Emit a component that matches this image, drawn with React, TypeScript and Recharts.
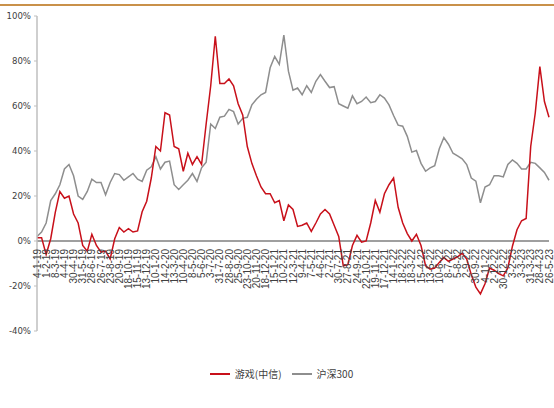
import React from 'react';
import { LineChart, Line, XAxis, YAxis, ReferenceLine, Legend } from 'recharts';

// weekly dates, sampled every 2 weeks; every other one is printed on the axis
const categories = [
  '4-1-19', '18-1-19', '1-2-19', '22-2-19', '8-3-19', '22-3-19', '4-4-19', '19-4-19',
  '30-4-19', '17-5-19', '31-5-19', '14-6-19', '28-6-19', '12-7-19', '26-7-19', '9-8-19',
  '23-8-19', '6-9-19', '20-9-19', '11-10-19', '18-10-19', '1-11-19', '15-11-19', '29-11-19',
  '13-12-19', '27-12-19', '10-1-20', '23-1-20', '14-2-20', '28-2-20', '13-3-20', '27-3-20',
  '10-4-20', '24-4-20', '8-5-20', '22-5-20', '5-6-20', '19-6-20', '3-7-20', '17-7-20',
  '31-7-20', '14-8-20', '28-8-20', '11-9-20', '25-9-20', '9-10-20', '23-10-20', '6-11-20',
  '20-11-20', '4-12-20', '18-12-20', '31-12-20', '15-1-21', '29-1-21', '10-2-21', '26-2-21',
  '12-3-21', '26-3-21', '9-4-21', '23-4-21', '7-5-21', '21-5-21', '4-6-21', '18-6-21',
  '2-7-21', '16-7-21', '30-7-21', '13-8-21', '27-8-21', '10-9-21', '24-9-21', '8-10-21',
  '22-10-21', '5-11-21', '19-11-21', '3-12-21', '17-12-21', '31-12-21', '14-1-22', '28-1-22',
  '18-2-22', '4-3-22', '18-3-22', '1-4-22', '15-4-22', '29-4-22', '13-5-22', '27-5-22',
  '10-6-22', '24-6-22', '8-7-22', '22-7-22', '5-8-22', '19-8-22', '2-9-22', '16-9-22',
  '30-9-22', '21-10-22', '4-11-22', '18-11-22', '2-12-22', '16-12-22', '30-12-22', '13-1-23',
  '3-2-23', '17-2-23', '3-3-23', '17-3-23', '31-3-23', '14-4-23', '28-4-23', '12-5-23',
  '26-5-23',
];

// 游戏(中信), cumulative %
const gameIndex = [
  1.5, 1.5, -6, 1, 12.7, 22, 19, 20, 12, 8,
  -2, -4.5, 3, -2, -5, -4.5, -8, 1, 6, 4,
  5.5, 4, 4.5, 13, 17.7, 28, 42, 40, 57, 56,
  42, 41, 31, 39, 34, 37.5, 34, 52, 69, 91,
  70, 70, 72, 69, 61, 56, 42, 34.5, 29, 24,
  21, 21, 17, 18, 9, 16, 14, 6.5, 7, 8,
  4.3, 8, 12, 14, 12, 7, 2, -11, -10.5, -2,
  2.5, -0.5, 0, 8, 18, 12.8, 21, 25, 28, 15,
  8, 3.3, 0, 3, -2, -11, -12.5, -12, -9.5, -7.3,
  -9, -8, -7, -5.5, -8, -15, -20.5, -23.5, -19, -12,
  -13, -14.5, -15.5, -12, -2.3, 5, 9, 10, 42, 57,
  77.5, 62, 55,
];

// 沪深300, cumulative %
const hs300 = [
  2, 4, 8, 18, 21, 25, 32, 34, 29, 20,
  18.5, 22, 27.5, 26, 26, 20.5, 26, 30, 29.5, 27,
  28.5, 30, 27.5, 26.5, 31.5, 33, 37.5, 32, 35, 35.5,
  25, 22.9, 25, 27, 30, 26.5, 32.5, 35, 52, 50,
  55, 55.5, 58.5, 57.5, 52, 54.5, 55, 60.5, 63, 65,
  66, 77, 82, 78.5, 91.5, 75.5, 67, 68, 65, 69,
  66, 71, 74, 71, 68.2, 68.6, 61, 60, 59, 64.5,
  61, 62, 64, 61.5, 62, 65, 63.5, 60.5, 55.8, 51.5,
  51, 46.5, 39.5, 40.2, 34.5, 31, 32.5, 33.5, 41, 46,
  43, 39, 37.8, 36.5, 34, 28, 26.6, 17, 24, 25,
  29, 29, 28.5, 34, 36, 34.5, 32, 32, 35, 34.5,
  32.5, 30.5, 27,
];

const yTicks = [-40, -20, 0, 20, 40, 60, 80, 100];

const data = categories.map((date, i) => ({ date, game: gameIndex[i], hs300: hs300[i] }));

const RED = '#C8101A';
const GREY = '#8E8E8E';

const PLOT_TOP = 16;
const PLOT_H = 315;
// the date labels hang from the 0% line, not from the bottom of the plot
const ZERO_Y = PLOT_TOP + PLOT_H * (100 / 140);

const DateTick = (props: any) => {
  const { x, payload } = props;
  const y = ZERO_Y + 8;
  return (
    <text
      x={x}
      y={y}
      transform={`rotate(-90 ${x} ${y})`}
      textAnchor="end"
      dominantBaseline="central"
      fontSize={10}
      fill="#404040"
      fontFamily='"Liberation Sans", Arial, sans-serif'
    >
      {payload.value}
    </text>
  );
};

const LegendBox = () => (
  <div style={{ height: 44, display: 'flex', justifyContent: 'center', alignItems: 'flex-start', paddingTop: 4, paddingLeft: 14, boxSizing: 'border-box' }}>
    {[
      { name: '游戏(中信)', color: RED },
      { name: '沪深300', color: GREY },
    ].map((it) => (
      <div key={it.name} style={{ display: 'flex', alignItems: 'center', margin: '0 5px' }}>
        <span style={{ width: 20, height: 2, background: it.color, display: 'inline-block', marginRight: 5 }} />
        <span style={{ fontSize: 10, color: '#404040', fontFamily: '"Noto Sans CJK SC", sans-serif', lineHeight: '12px' }}>{it.name}</span>
      </div>
    ))}
  </div>
);

export default function App() {
  return (
    <div style={{ position: 'absolute', left: 0, top: 0, width: 554, height: 408, background: '#fff' }}>
      <div style={{ position: 'absolute', left: 0, top: 4, width: 554, height: 2, background: '#C9914A' }} />
      <LineChart width={554} height={408} data={data} margin={{ top: PLOT_TOP, right: 5, left: 0, bottom: 0 }}>
        <XAxis
          dataKey="date"
          interval={1}
          axisLine={false}
          tickLine={false}
          height={33}
          tick={<DateTick />}
        />
        <YAxis
          domain={[-40, 100]}
          ticks={yTicks}
          width={37}
          tickFormatter={(v) => `${v}%`}
          axisLine={{ stroke: '#BFBFBF', strokeWidth: 1.5 }}
          tickLine={{ stroke: '#BFBFBF' }}
          tickSize={3}
          tickMargin={3}
          tick={{ fontSize: 9.5, fill: '#404040', fontFamily: '"Liberation Sans Narrow", "DejaVu Sans Condensed", Arial, sans-serif' }}
        />
        <ReferenceLine y={0} stroke="#7F7F7F" strokeWidth={1.5} />
        <Line type="linear" dataKey="hs300" name="沪深300" stroke={GREY} strokeWidth={1.5} dot={false} isAnimationActive={false} />
        <Line type="linear" dataKey="game" name="游戏(中信)" stroke={RED} strokeWidth={1.5} dot={false} isAnimationActive={false} />
        <Legend verticalAlign="bottom" content={<LegendBox />} />
      </LineChart>
    </div>
  );
}
